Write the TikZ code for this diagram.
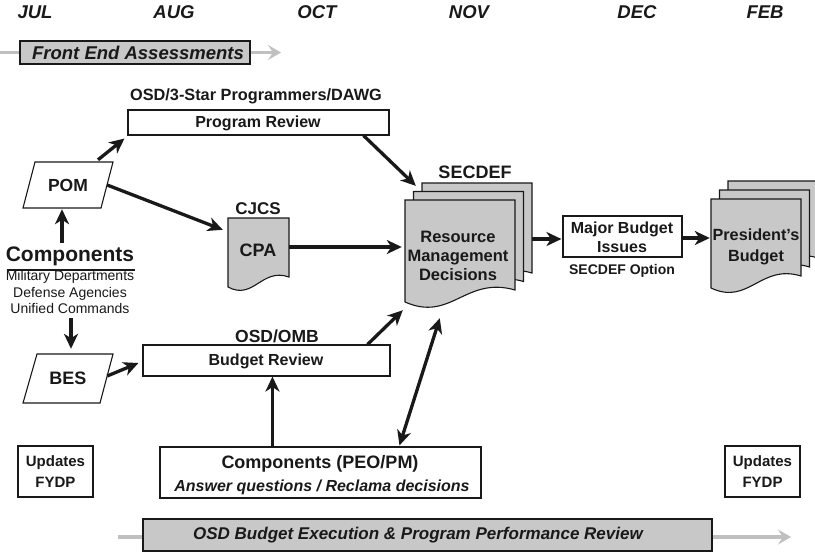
\documentclass[tikz,border=0pt]{standalone}
\usepackage{fontspec}
\setmainfont{Liberation Sans}
\usetikzlibrary{arrows.meta,calc}
\definecolor{docgray}{RGB}{200,200,200}
\definecolor{linegray}{RGB}{192,192,192}
\definecolor{ink}{RGB}{25,25,25}
\newcommand{\fs}[2]{\fontsize{#1}{#2}\selectfont}
\newcommand{\docsheet}[5]{%
  \pgfmathsetmacro{\dwA}{#1+0.55*(#3-#1)}%
  \pgfmathsetmacro{\dwB}{#1+0.42*(#3-#1)}%
  \pgfmathsetmacro{\dhA}{#5-0.14*(#4-#2)}%
  \pgfmathsetmacro{\dhB}{#4+0.2*(#4-#2)}%
  \filldraw[docstyle] (#1,#2) -- (#3,#2) -- (#3,#5) .. controls (\dwA,\dhA) and (\dwB,\dhB) .. (#1,#4) -- cycle;}
\begin{document}
\begin{tikzpicture}[x=1pt,y=-1pt,
  docstyle/.style={fill=docgray, draw=ink, line width=1.1pt},
  shapeline/.style={draw=ink, line width=1.1pt, fill=white},
  box/.style={draw=ink, line width=1.1pt, fill=white, inner sep=0pt},
  graybox/.style={draw=ink, line width=1.1pt, fill=docgray, inner sep=0pt},
  txt/.style={text=ink, inner sep=0pt, align=center},
  bold/.style={txt, font=\bfseries\fs{16}{19}},
  month/.style={txt, font=\bfseries\itshape\fs{18.5}{20}},
  arr/.style={line width=3.3pt, draw=ink, -{Stealth[length=15pt,width=14pt,inset=4.5pt]}},
  darr/.style={line width=3.3pt, draw=ink, {Stealth[length=15pt,width=14pt,inset=4.5pt]}-{Stealth[length=15pt,width=14pt,inset=4.5pt]}},
  grayline/.style={line width=3.5pt, draw=linegray},
  grayarr/.style={grayline, -{Stealth[length=13pt,width=15pt,inset=5pt]}}
]
\useasboundingbox (0,0) rectangle (815,552);
\fill[white] (0,0) rectangle (815,552);

% months
\node[month] (jul) at (35,12) {JUL};
\node[month] (aug) at (174,12) {AUG};
\node[month] (oct) at (317,12) {OCT};
\node[month] (nov) at (469,12) {NOV};
\node[month] (dec) at (637,12) {DEC};
\node[month] (feb) at (765,12) {FEB};

% front end assessments
\coordinate (feastart) at (0,52.5);
\coordinate (feaend) at (281,52.5);
\draw[grayline] (feastart) -- (20,52.5);
\draw[grayarr] (250,52.5) -- (feaend);
\node[graybox, minimum width=230pt, minimum height=23pt] (fea) at (135,52.5) {};
\node[txt, font=\bfseries\itshape\fs{18.5}{20}] (featxt) at (138,53) {Front End Assessments};

% program review
\node[bold, font=\bfseries\fs{16.3}{19}] (osd3) at (256,96) {OSD/3-Star Programmers/DAWG};
\node[box, minimum width=261pt, minimum height=25pt] (pr) at (258.5,122.5) {};
\node[bold] (prtxt) at (258,123) {Program Review};

% POM
\draw[shapeline] (35,162) -- (113,162) -- (101,208) -- (23,208) -- cycle;
\node[txt, font=\bfseries\fs{17.5}{19}, minimum width=90pt, minimum height=46pt] (pom) at (68,185) {POM};

% Components
\node[txt, font=\bfseries\fs{21}{23}] (comp) at (70,256) {Components};
\draw[line width=1.3pt, draw=ink] (7,270) -- (135,270);
\node[txt, font=\fs{14}{16.2}] (compsub) at (70,292) {Military Departments\\Defense Agencies\\Unified Commands};

% BES
\draw[shapeline] (37,354) -- (113,354) -- (100,403) -- (23,403) -- cycle;
\node[txt, font=\bfseries\fs{18}{19}, minimum width=90pt, minimum height=49pt] (bes) at (68,378.5) {BES};

% budget review
\node[bold, font=\bfseries\fs{17.5}{19}] (omb) at (277,336) {OSD/OMB};
\node[box, minimum width=247pt, minimum height=31pt] (br) at (266.5,360.5) {};
\node[bold] (brtxt) at (266,361) {Budget Review};

% CPA
\node[bold, font=\bfseries\fs{17}{19}] (cjcs) at (258,209) {CJCS};
\docsheet{228}{218}{289}{287}{277}
\node[txt, font=\bfseries\fs{18}{19}, minimum width=61pt, minimum height=69pt] (cpa) at (258.5,252.5) {};
\node[txt, font=\bfseries\fs{18}{19}] (cpatxt) at (258,250) {CPA};

% RMD stack
\node[bold, font=\bfseries\fs{18}{19}] (secdef) at (475,172) {SECDEF};
\docsheet{422}{183}{532}{285}{273}
\docsheet{413.5}{191.5}{523.5}{293.5}{281.5}
\docsheet{405}{200}{515}{302}{290}
\node[txt, minimum width=110pt, minimum height=102pt] (rmd) at (460,251) {};
\node[bold, font=\bfseries\fs{16.5}{19}] (rmdtxt) at (458,256) {Resource\\Management\\Decisions};

% major budget issues
\node[box, minimum width=119pt, minimum height=41pt] (mbi) at (622.5,236.5) {};
\node[bold] (mbitxt) at (622,237.5) {Major Budget\\Issues};
\node[txt, font=\bfseries\fs{14}{16}] (secopt) at (622,271) {SECDEF Option};

% president's budget
\docsheet{728}{181}{818}{270}{258}
\docsheet{719.5}{190}{809.5}{279}{267}
\docsheet{711}{199}{801}{288}{276}
\node[txt, minimum width=90pt, minimum height=89pt] (pb) at (756,243.5) {};
\node[bold, font=\bfseries\fs{16.2}{21}] (pbtxt) at (756,247) {President's\\Budget};

% PEO/PM
\node[box, minimum width=321pt, minimum height=51pt] (peo) at (320.5,472.5) {};
\node[txt, font=\bfseries\fs{18}{20}] (peo1) at (320,464) {Components (PEO/PM)};
\node[txt, font=\bfseries\itshape\fs{16}{18}] (peo2) at (322,487) {Answer questions / Reclama decisions};

% updates FYDP
\node[box, minimum width=75pt, minimum height=51pt, font=\bfseries\fs{15}{21}, text=ink, align=center] (updl) at (55.5,471.5) {Updates\\FYDP};
\node[box, minimum width=75pt, minimum height=51pt, font=\bfseries\fs{15}{21}, text=ink, align=center] (updr) at (762.5,471.5) {Updates\\FYDP};

% bottom bar
\coordinate (bstart) at (118,537);
\coordinate (bend) at (791,537);
\draw[grayline] (bstart) -- (143,537);
\draw[grayarr] (712,537) -- (bend);
\node[graybox, minimum width=569pt, minimum height=32pt] (bar) at (427.5,535) {};
\node[txt, font=\bfseries\itshape\fs{17}{19}] (bartxt) at (418,535) {OSD Budget Execution \& Program Performance Review};

% connectors
\draw[arr] ($(pom.north)+(30,-2)$) -- ($(pr.south west)+(-3,3)$);
\draw[arr] ($(pom.east)+(-6,0)$) -- ($(cpa.north west)+(-5,12)$);
\draw[arr] ($(pom.south)+(-6,35)$) -- ($(pom.south)+(-6,1)$);
\draw[arr] ($(bes.north)+(3,-36)$) -- ($(bes.north)+(3,-5)$);
\draw[arr] ($(bes.east)+(-6,-2.5)$) -- ($(br.west)+(-4,2.5)$);
\draw[arr] ($(peo.north west)+(113,0)$) -- ($(br.south west)+(130,0)$);
\draw[arr] ($(br.north east)+(-23,0)$) -- ($(rmd.south west)+(-2,8)$);
\draw[darr] ($(peo.north west)+(240,-1)$) -- ($(rmd.south west)+(35,16)$);
\draw[arr] ($(pr.south east)+(-26,0)$) -- ($(rmd.north west)+(11,-14)$);
\draw[arr] ($(cpa.east)+(0,-5.5)$) -- ($(rmd.west)+(-3,-4)$);
\draw[arr] ($(rmd.east)+(17,-12)$) -- ($(mbi.west)+(-1,2.5)$);
\draw[arr] ($(mbi.east)+(0,1.5)$) -- ($(pb.west)+(-1,-5.5)$);
\end{tikzpicture}
\end{document}
